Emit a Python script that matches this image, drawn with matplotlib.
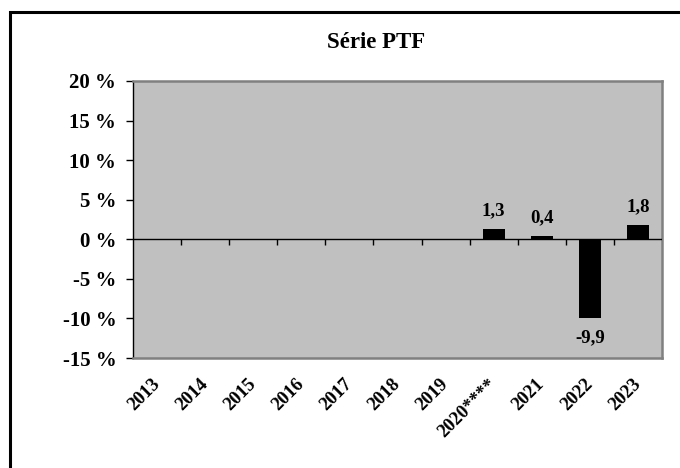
import matplotlib
matplotlib.use("Agg")
import matplotlib.pyplot as plt
from matplotlib.patches import Rectangle
import numpy as np

categories = ["2013", "2014", "2015", "2016", "2017", "2018", "2019", "2020****", "2021", "2022", "2023"]
values = [np.nan, np.nan, np.nan, np.nan, np.nan, np.nan, np.nan, 1.3, 0.4, -9.9, 1.8]
labels = ["", "", "", "", "", "", "", "1,3", "0,4", "-9,9", "1,8"]
yticks = [-15, -10, -5, 0, 5, 10, 15, 20]
ytick_labels = ["-15 %", "-10 %", "-5 %", "0 %", "5 %", "10 %", "15 %", "20 %"]

plt.rcParams['font.family'] = ['Liberation Serif', 'DejaVu Serif']
plt.rcParams['font.weight'] = 'bold'

fig = plt.figure(figsize=(6.8, 4.68), dpi=100)
fig.patch.set_facecolor('white')

# outer border
fig.patches.append(Rectangle((10/680, -0.1), 1.2, 0.1 + 1 - 12/468, transform=fig.transFigure,
                             fill=False, edgecolor='black', linewidth=2.2, zorder=10))

ax = fig.add_axes([133/680, 1 - 358/468, (662-133)/680, (358-81)/468])
ax.set_facecolor('#C0C0C0')

x = np.arange(len(categories))
ax.bar(x, values, width=0.46, color='black', zorder=3)

for xi, v, lab in zip(x, values, labels):
    if lab and not np.isnan(v):
        if v >= 0:
            ax.annotate(lab, (xi, v), xytext=(0, 7), textcoords='offset points',
                        ha='center', va='bottom', fontsize=13.5, fontweight='bold')
        else:
            ax.annotate(lab, (xi, v), xytext=(0, -8), textcoords='offset points',
                        ha='center', va='top', fontsize=13.5, fontweight='bold')

ax.set_xlim(-0.5, len(categories) - 0.5)
ax.set_ylim(-15, 20)
ax.set_yticks(yticks)
ax.set_yticklabels(ytick_labels, fontsize=15, fontweight='bold')
ax.tick_params(axis='y', direction='out', length=5, width=1, color='black', pad=7)

ax.set_xticks(x)
ax.set_xticklabels(categories, rotation=45, ha='right', va='center', rotation_mode='anchor',
                   fontsize=13.5, fontweight='bold')
ax.tick_params(axis='x', length=0, pad=17)

for s in ['top', 'right', 'bottom']:
    ax.spines[s].set_color('#808080')
    ax.spines[s].set_linewidth(1.8)
ax.spines['left'].set_color('black')
ax.spines['left'].set_linewidth(1)

# zero axis with category boundary ticks
ax.axhline(0, color='black', linewidth=1, zorder=4)
sec = ax.secondary_xaxis(15/35)
sec.set_xticks(np.arange(0.5, len(categories) - 0.5, 1))
sec.set_xticklabels([])
sec.tick_params(axis='x', direction='out', length=4, width=1, color='black')
for s in sec.spines.values():
    s.set_visible(False)

fig.text(376/680, 1 - 43/468, "Série PTF", ha='center', va='center', fontsize=16.5, fontweight='bold')

fig.savefig("out.png", dpi=100)
